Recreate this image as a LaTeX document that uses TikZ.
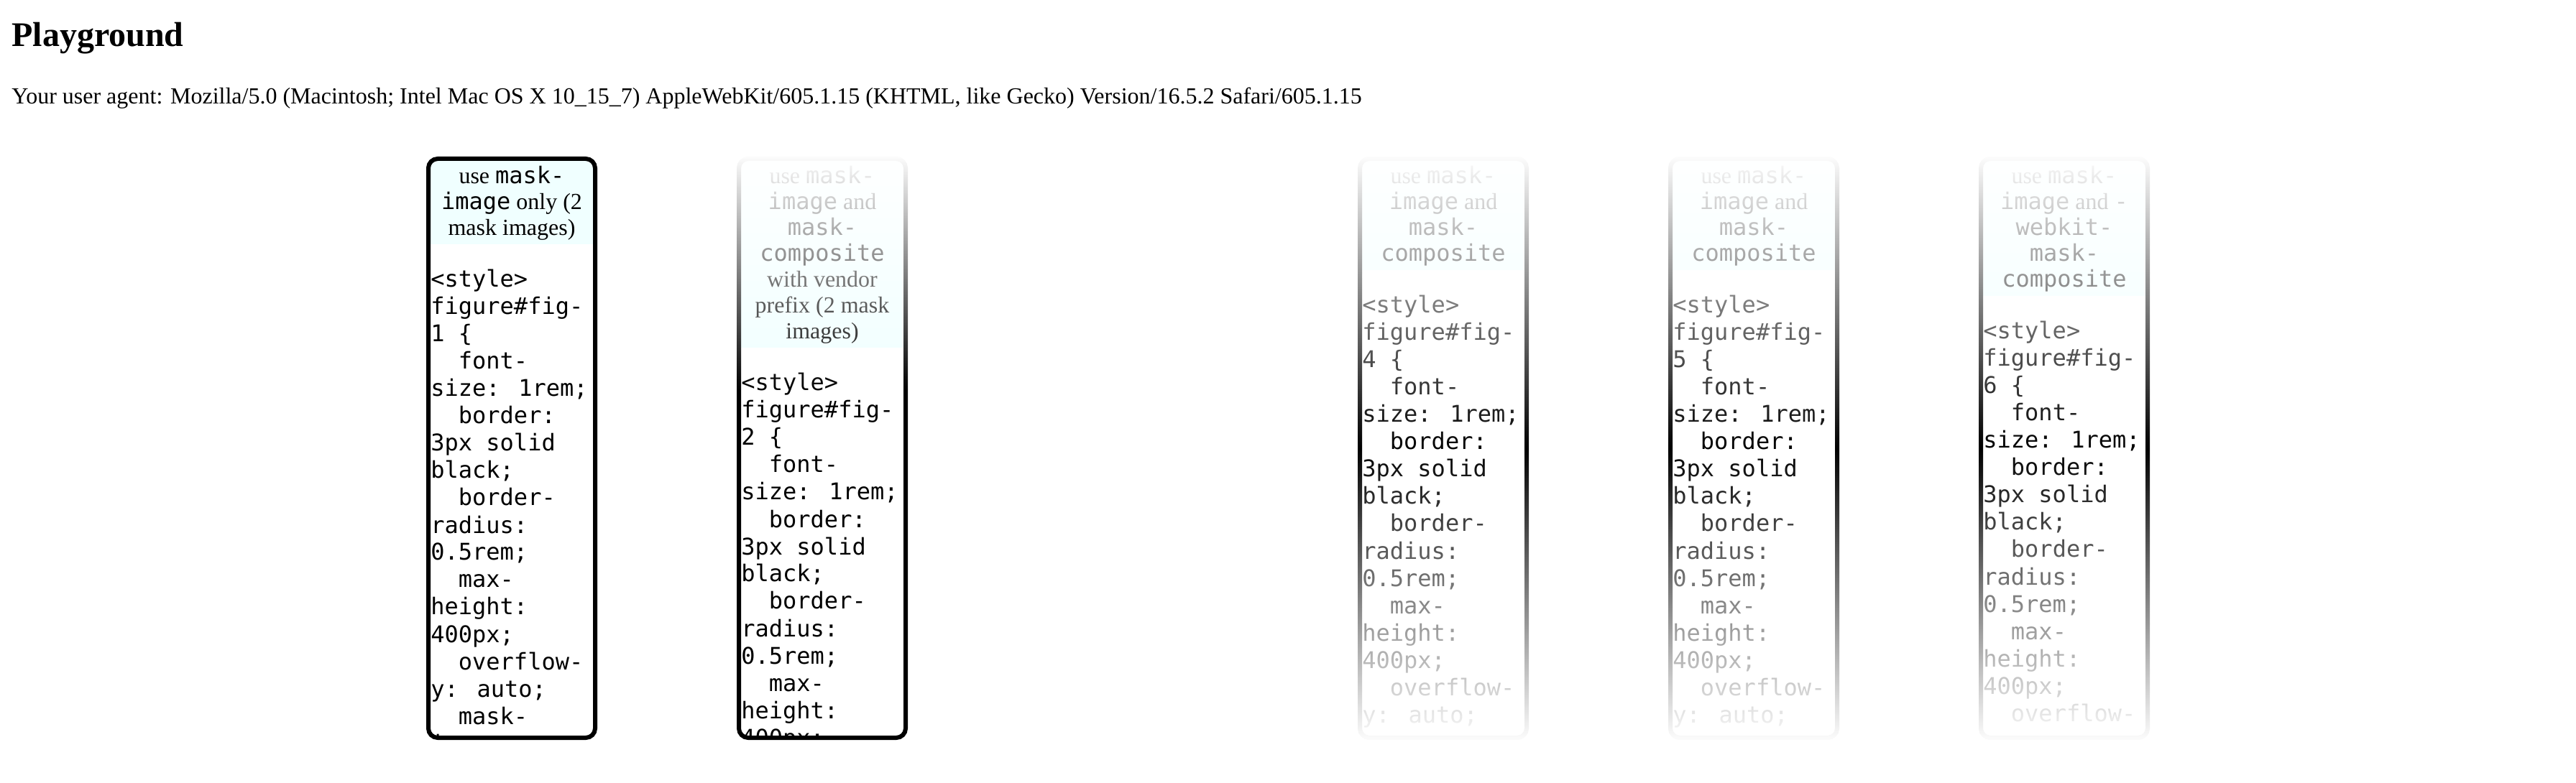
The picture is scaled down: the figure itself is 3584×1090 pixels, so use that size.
\documentclass[tikz,border=0pt]{standalone}
\usepackage{fontspec}
\setmainfont{Liberation Serif}
\newfontfamily\menlo{DejaVu Sans Mono}
\usetikzlibrary{fadings}
\usepackage{xcolor}
\definecolor{capbg}{HTML}{F0FFFF}

\tikzfading[name=fadetop, top color=transparent!0, bottom color=transparent!100]
\tikzfading[name=fadebottom, top color=transparent!100, bottom color=transparent!0]

\newcommand{\cd}[1]{{\menlo #1}}
\newcommand{\codelist}{<style>, figure\#fig-, \fignum\ \{, \ \ font-, size: 1rem;, \ \ border:, 3px solid, black;, \ \ border-, radius:, 0.5rem;, \ \ max-, height:, 400px;, \ \ overflow-, y: auto;, \ \ mask-, image:}

% #1 left edge, #2 number, #3 caption lines, #4 caption line count, #5 last code line shown
\newcommand{\drawfig}[5]{%
  \def\fignum{#2}
  \pgfmathsetmacro{\capbot}{256+36*(#4-1)+12}
  \pgfmathsetmacro{\codetop}{\capbot+60}
  \begin{scope}
    \clip[rounded corners=5pt] (#1+6,224) rectangle (#1+232,1024);
    \fill[capbg] (#1+6,224) rectangle (#1+232,\capbot);
    \foreach \txt [count=\i from 0] in {#3}
      \node[caption] (cap#2-\i) [at={({#1+119},{256+36*\i})}] {\txt};
    \foreach \txt [count=\i from 0] in \codelist {
      \ifnum\i>#5\else
        \node[codeline] (code#2-\i) [at={({#1+6},{\codetop+38*\i})}] {\txt};
      \fi
    }
  \end{scope}
  \draw[figborder] (#1+3,221) rectangle (#1+235,1027);
}

\begin{document}
\begin{tikzpicture}[
      x = 0.5pt, % one screen pixel
      y = -0.5pt, % rows run downwards
    ]

    \tikzstyle{caption}=[anchor = base, inner sep = 0pt, font = \fontsize{16}{18}\selectfont]
    \tikzstyle{codeline}=[anchor = base west, inner sep = 0pt, font = \menlo\fontsize{16}{18}\selectfont]
    \tikzstyle{figborder}=[draw = black, line width = 3pt, rounded corners = 6.5pt]
    \tikzstyle{fadeup}=[white, path fading = fadetop]
    \tikzstyle{fadedown}=[white, path fading = fadebottom]

    \useasboundingbox (0,0) rectangle (3584,1090);

    \node[anchor = base west, inner sep = 0pt, font = \bfseries\fontsize{24}{28}\selectfont] (title) [at={(16,65)}] {Playground};
    \node[anchor = base west, inner sep = 0pt, font = \fontsize{16}{18}\selectfont] (agent) [at={(16,145)}]
      {Your user agent: Mozilla/5.0 (Macintosh; Intel Mac OS X 10\_15\_7) AppleWebKit/605.1.15 (KHTML, like Gecko) Version/16.5.2 Safari/605.1.15};

    \drawfig{593}{1}{use \cd{mask-}, \cd{image} only (2, mask images)}{3}{17}
    \drawfig{1025}{2}{use \cd{mask-}, \cd{image} and, \cd{mask-}, \cd{composite}, with vendor, prefix (2 mask, images)}{7}{13}
    \drawfig{1889}{4}{use \cd{mask-}, \cd{image} and, \cd{mask-}, \cd{composite}}{4}{15}
    \drawfig{2321}{5}{use \cd{mask-}, \cd{image} and, \cd{mask-}, \cd{composite}}{4}{15}
    \drawfig{2753}{6}{use \cd{mask-}, \cd{image} and \cd{-}, \cd{webkit-}, \cd{mask-}, \cd{composite}}{5}{14}

    % masks
    \fill[fadeup] (1023,214) rectangle (1265,543);
    \fill[fadeup] (1887,214) rectangle (2129,624);
    \fill[fadedown] (1887,624) rectangle (2129,1034);
    \fill[fadeup] (2319,214) rectangle (2561,624);
    \fill[fadedown] (2319,624) rectangle (2561,1034);
    \fill[fadeup] (2751,214) rectangle (2993,624);
    \fill[fadedown] (2751,624) rectangle (2993,1034);

  \end{tikzpicture}
\end{document}
